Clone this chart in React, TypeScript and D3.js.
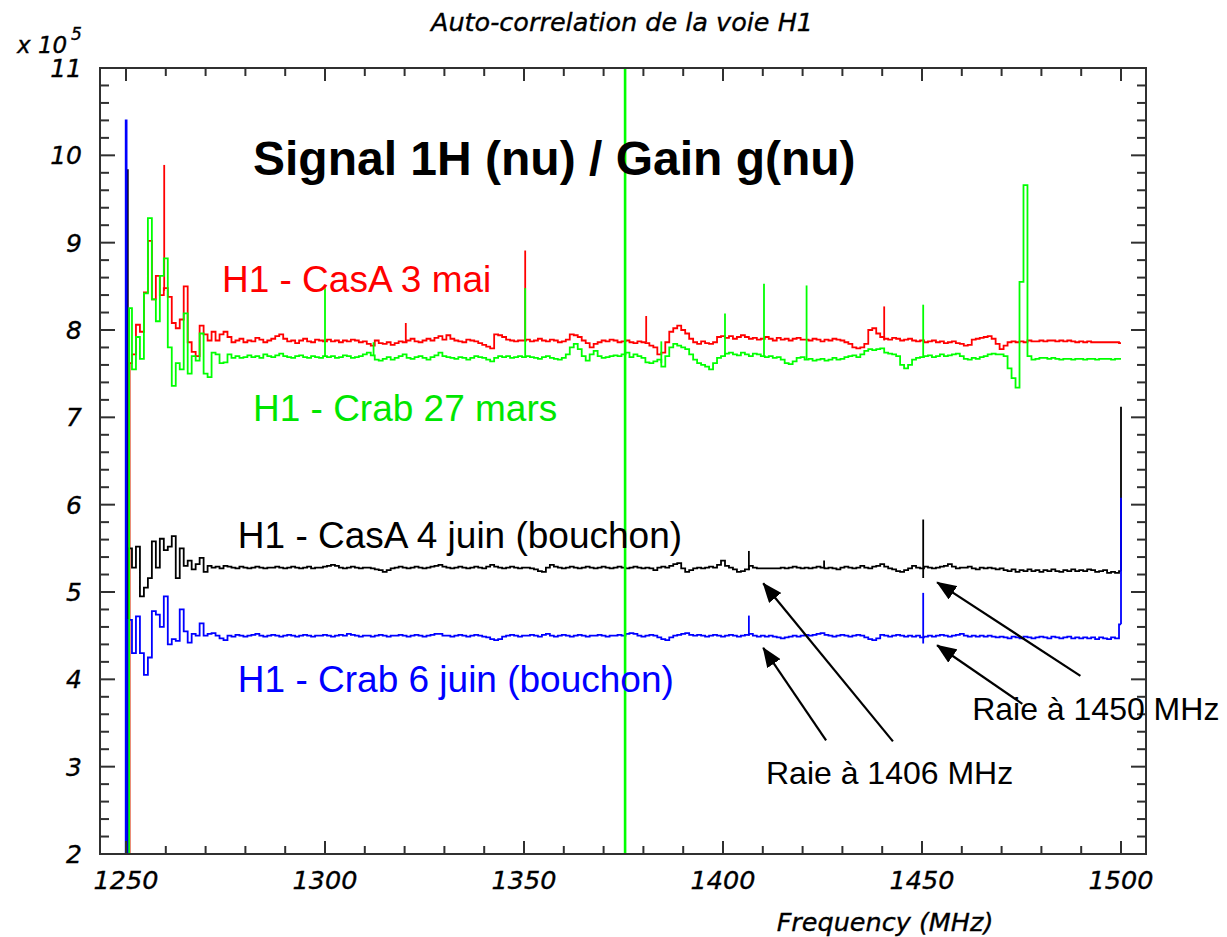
import React from 'react';
import * as d3 from 'd3';

// ---------- DATA (values in units of 10^5) ----------
const FREQ_START = 1251; // MHz, 1 MHz per channel
const FREQ_STEP = 1;

const redValues = [
  7.62, 7.72, 8.06, 7.98, 8.43, 9.02, 8.35, 8.62, 8.40, 8.48,
  8.38, 8.08, 8.02, 8.12, 8.50, 7.86, 7.75, 7.70, 8.05, 7.95,
  7.88, 7.98, 7.88, 7.95, 7.98, 7.92, 7.86, 7.88, 7.90, 7.86,
  7.88, 7.87, 7.91, 7.89, 7.86, 7.88, 7.90, 7.93, 7.95, 7.90,
  7.87, 7.88, 7.85, 7.88, 7.90, 7.87, 7.86, 7.89, 7.88, 7.87,
  7.89, 7.87, 7.88, 7.86, 7.88, 7.87, 7.89, 7.88, 7.86, 7.87,
  7.84, 7.82, 7.88, 7.85, 7.84, 7.86, 7.83, 7.85, 7.87, 7.86,
  7.88, 7.90, 7.87, 7.86, 7.88, 7.90, 7.88, 7.91, 7.93, 7.89,
  7.94, 7.90, 7.88, 7.87, 7.86, 7.89, 7.88, 7.87, 7.85, 7.83,
  7.81, 7.79, 7.95, 7.94, 7.92, 7.89, 7.88, 7.87, 7.88, 7.88,
  7.89, 7.87, 7.88, 7.90, 7.88, 7.87, 7.89, 7.88, 7.86, 7.87,
  7.89, 7.95, 7.94, 7.92, 7.88, 7.85, 7.80, 7.84, 7.86, 7.88,
  7.87, 7.89, 7.88, 7.86, 7.87, 7.88, 7.86, 7.85, 7.87, 7.86,
  7.85, 7.82, 7.80, 7.72, 7.74, 7.86, 7.98, 8.02, 8.05, 8.00,
  7.96, 7.90, 7.86, 7.84, 7.87, 7.85, 7.84, 7.86, 7.92, 7.93,
  7.91, 7.93, 7.90, 7.92, 7.94, 7.92, 7.90, 7.91, 7.89, 7.90,
  7.92, 7.90, 7.88, 7.91, 7.89, 7.90, 7.88, 7.90, 7.91, 7.89,
  7.89, 7.88, 7.90, 7.89, 7.87, 7.89, 7.88, 7.90, 7.89, 7.88,
  7.86, 7.84, 7.80, 7.79, 7.80, 7.84, 8.00, 8.02, 7.96, 7.92,
  7.90, 7.89, 7.91, 7.90, 7.88, 7.89, 7.90, 7.88, 7.87, 7.88,
  7.86, 7.87, 7.88, 7.86, 7.87, 7.85, 7.86, 7.87, 7.85, 7.84,
  7.82, 7.83, 7.89, 7.90, 7.91, 7.92, 7.93, 7.90, 7.84, 7.78,
  7.82, 7.86, 7.87, 7.86, 7.87, 7.86, 7.88, 7.87, 7.87, 7.88,
  7.87, 7.88, 7.88, 7.87, 7.88, 7.87, 7.88, 7.87, 7.86, 7.87,
  7.86, 7.87, 7.86, 7.86, 7.86, 7.86, 7.86, 7.86, 7.86, 7.85,
];

const greenValues = [
  8.25, 7.55, 7.92, 7.67, 8.42, 9.28, 8.35, 8.10, 8.62, 8.82,
  7.80, 7.36, 7.62, 7.55, 8.19, 7.50, 7.70, 7.65, 7.96, 7.50,
  7.46, 7.74, 7.72, 7.62, 7.63, 7.72, 7.68, 7.70, 7.68, 7.69,
  7.71, 7.69, 7.70, 7.68, 7.72, 7.70, 7.69, 7.71, 7.73, 7.70,
  7.69, 7.68, 7.70, 7.71, 7.69, 7.68, 7.70, 7.69, 7.68, 7.70,
  7.69, 7.70, 7.68, 7.69, 7.71, 7.70, 7.68, 7.69, 7.70, 7.72,
  7.74, 7.71, 7.66, 7.65, 7.67, 7.69, 7.66, 7.68, 7.70, 7.72,
  7.68, 7.67, 7.69, 7.70, 7.68, 7.66, 7.69, 7.71, 7.74, 7.70,
  7.69, 7.68, 7.67, 7.69, 7.68, 7.66, 7.68, 7.70, 7.69, 7.68,
  7.66, 7.64, 7.68, 7.70, 7.69, 7.70, 7.68, 7.69, 7.70, 7.69,
  7.70, 7.69, 7.68, 7.67, 7.69, 7.70, 7.68, 7.67, 7.66, 7.68,
  7.72, 7.80, 7.84, 7.78, 7.70, 7.65, 7.72, 7.76, 7.70, 7.68,
  7.69, 7.70, 7.71, 7.70, 7.72, 7.74, 7.69, 7.72, 7.70, 7.68,
  7.63, 7.62, 7.64, 7.66, 7.58, 7.70, 7.80, 7.84, 7.82, 7.80,
  7.78, 7.72, 7.66, 7.62, 7.60, 7.58, 7.55, 7.62, 7.68, 7.70,
  7.73, 7.74, 7.72, 7.71, 7.74, 7.72, 7.70, 7.73, 7.72, 7.70,
  7.69, 7.70, 7.68, 7.69, 7.66, 7.62, 7.61, 7.64, 7.68, 7.69,
  7.66, 7.67, 7.65, 7.66, 7.67, 7.65, 7.66, 7.68, 7.66, 7.67,
  7.69, 7.70, 7.71, 7.69, 7.72, 7.76, 7.78, 7.77, 7.78, 7.79,
  7.74, 7.73, 7.72, 7.70, 7.60, 7.56, 7.60, 7.66, 7.68, 7.69,
  7.70, 7.71, 7.69, 7.70, 7.72, 7.70, 7.71, 7.72, 7.73, 7.70,
  7.67, 7.66, 7.68, 7.67, 7.69, 7.70, 7.72, 7.73, 7.72, 7.72,
  7.70, 7.56, 7.45, 7.34, 8.55, 9.66, 7.70, 7.66, 7.67, 7.68,
  7.68, 7.67, 7.68, 7.67, 7.66, 7.67, 7.67, 7.66, 7.67, 7.67,
  7.66, 7.67, 7.67, 7.66, 7.67, 7.67, 7.67, 7.66, 7.67, 7.67,
];

const blackValues = [
  5.50, 5.28, 5.52, 4.95, 5.05, 5.16, 5.58, 5.28, 5.61, 5.48,
  5.52, 5.64, 5.16, 5.50, 5.30, 5.36, 5.26, 5.32, 5.39, 5.23,
  5.30, 5.28, 5.29, 5.27, 5.30, 5.29, 5.28, 5.27, 5.29, 5.28,
  5.27, 5.28, 5.29, 5.28, 5.27, 5.28, 5.28, 5.29, 5.28, 5.27,
  5.28, 5.29, 5.28, 5.27, 5.28, 5.29, 5.27, 5.28, 5.28, 5.29,
  5.30, 5.31, 5.30, 5.28, 5.27, 5.28, 5.29, 5.28, 5.27, 5.28,
  5.28, 5.27, 5.26, 5.25, 5.23, 5.25, 5.27, 5.28, 5.29, 5.28,
  5.27, 5.28, 5.29, 5.28, 5.27, 5.28, 5.29, 5.30, 5.31, 5.29,
  5.28, 5.27, 5.28, 5.29, 5.28, 5.27, 5.28, 5.29, 5.28, 5.27,
  5.29, 5.31, 5.29, 5.28, 5.27, 5.28, 5.29, 5.28, 5.27, 5.28,
  5.28, 5.27, 5.26, 5.24, 5.23, 5.28, 5.31, 5.29, 5.28, 5.27,
  5.28, 5.29, 5.28, 5.27, 5.28, 5.29, 5.28, 5.27, 5.28, 5.29,
  5.28, 5.27, 5.28, 5.29, 5.28, 5.27, 5.28, 5.29, 5.28, 5.27,
  5.28, 5.27, 5.25, 5.28, 5.29, 5.28, 5.30, 5.32, 5.33, 5.27,
  5.23, 5.25, 5.27, 5.28, 5.27, 5.28, 5.29, 5.28, 5.31, 5.36,
  5.30, 5.28, 5.26, 5.23, 5.24, 5.26, 5.30, 5.28, 5.27, 5.27,
  5.27, 5.27, 5.27, 5.27, 5.28, 5.27, 5.28, 5.29, 5.28, 5.27,
  5.28, 5.27, 5.28, 5.29, 5.28, 5.27, 5.28, 5.27, 5.26, 5.28,
  5.29, 5.28, 5.27, 5.28, 5.30, 5.28, 5.27, 5.29, 5.30, 5.32,
  5.29, 5.27, 5.26, 5.24, 5.23, 5.25, 5.27, 5.30, 5.28, 5.27,
  5.29, 5.28, 5.27, 5.28, 5.29, 5.30, 5.32, 5.29, 5.27, 5.28,
  5.28, 5.29, 5.27, 5.26, 5.28, 5.27, 5.28, 5.27, 5.26, 5.27,
  5.25, 5.24, 5.26, 5.23, 5.25, 5.24, 5.26, 5.24, 5.25, 5.23,
  5.25, 5.24, 5.26, 5.24, 5.23, 5.25, 5.24, 5.26, 5.24, 5.25,
  5.24, 5.26, 5.25, 5.23, 5.24, 5.25, 5.22, 5.23, 5.22, 5.24,
];

const blueValues = [
  4.68, 4.30, 4.72, 4.30, 4.05, 4.25, 4.78, 4.74, 4.60, 4.95,
  4.40, 4.46, 4.44, 4.80, 4.55, 4.42, 4.52, 4.50, 4.64, 4.50,
  4.52, 4.53, 4.50, 4.47, 4.45, 4.50, 4.49, 4.51, 4.50, 4.49,
  4.50, 4.51, 4.52, 4.50, 4.49, 4.50, 4.51, 4.50, 4.49, 4.50,
  4.51, 4.50, 4.49, 4.50, 4.51, 4.50, 4.49, 4.50, 4.50, 4.51,
  4.50, 4.49, 4.50, 4.51, 4.50, 4.52, 4.51, 4.50, 4.49, 4.50,
  4.50, 4.49, 4.50, 4.51, 4.50, 4.49, 4.50, 4.50, 4.51, 4.50,
  4.49, 4.50, 4.51, 4.50, 4.49, 4.50, 4.51, 4.52, 4.52, 4.50,
  4.50, 4.49, 4.50, 4.51, 4.50, 4.49, 4.50, 4.51, 4.50, 4.49,
  4.48, 4.46, 4.45, 4.46, 4.49, 4.50, 4.51, 4.50, 4.49, 4.50,
  4.50, 4.51, 4.50, 4.49, 4.51, 4.52, 4.50, 4.49, 4.50, 4.51,
  4.50, 4.49, 4.50, 4.51, 4.50, 4.49, 4.50, 4.50, 4.51, 4.50,
  4.49, 4.50, 4.50, 4.51, 4.50, 4.52, 4.53, 4.52, 4.50, 4.49,
  4.50, 4.51, 4.50, 4.48, 4.46, 4.45, 4.48, 4.50, 4.51, 4.52,
  4.53, 4.51, 4.50, 4.51, 4.50, 4.49, 4.50, 4.51, 4.50, 4.49,
  4.50, 4.51, 4.50, 4.49, 4.50, 4.51, 4.52, 4.50, 4.49, 4.50,
  4.49, 4.50, 4.49, 4.48, 4.47, 4.48, 4.49, 4.50, 4.49, 4.50,
  4.51, 4.50, 4.51, 4.52, 4.53, 4.51, 4.50, 4.49, 4.50, 4.51,
  4.50, 4.49, 4.50, 4.51, 4.50, 4.48, 4.46, 4.45, 4.47, 4.51,
  4.50, 4.49, 4.50, 4.51, 4.50, 4.49, 4.50, 4.49, 4.50, 4.48,
  4.49, 4.50, 4.49, 4.50, 4.51, 4.50, 4.49, 4.50, 4.51, 4.52,
  4.50, 4.49, 4.50, 4.49, 4.50, 4.49, 4.50, 4.49, 4.48, 4.49,
  4.48, 4.47, 4.49, 4.48, 4.47, 4.49, 4.48, 4.47, 4.48, 4.49,
  4.48, 4.47, 4.49, 4.48, 4.47, 4.48, 4.49, 4.47, 4.48, 4.47,
  4.48, 4.47, 4.48, 4.46, 4.48, 4.47, 4.46, 4.48, 4.47, 4.63,
];

// first channels (band edge glitches) before FREQ_START
const redLeadFreq = [1250.8];
const redLeadVal = [1.0];
const greenLeadFreq = [1250.6];
const greenLeadVal = [1.0];
const blackLeadFreq = [1250.2, 1250.35, 1250.55];
const blackLeadVal = [1.0, 9.83, 1.0];
const blueLeadFreq = [1249.85, 1250.0, 1250.3];
const blueLeadVal = [1.0, 10.4, 1.0];

// narrow single-channel spikes (freq, low, high)
const redSpikeFreq = [1259.6, 1320.3, 1350.3, 1380.7, 1440.5];
const redSpikeLo = [8.45, 7.86, 7.88, 7.86, 7.88];
const redSpikeHi = [9.89, 8.08, 8.91, 8.16, 8.27];
const greenSpikeFreq = [1300.0, 1312.2, 1350.3, 1384.5, 1400.5, 1410.3, 1421.0, 1450.3];
const greenSpikeLo = [7.69, 7.70, 7.69, 7.62, 7.70, 7.69, 7.66, 7.69];
const greenSpikeHi = [8.49, 7.86, 8.48, 7.87, 8.19, 8.53, 8.51, 8.29];
const blackSpikeFreq = [1406.5, 1425.4, 1450.3, 1500.0];
const blackSpikeLo = [5.25, 5.28, 5.16, 5.24];
const blackSpikeHi = [5.47, 5.36, 5.83, 7.12];
const blueSpikeFreq = [1406.5, 1450.3, 1500.0];
const blueSpikeLo = [4.50, 4.41, 4.63];
const blueSpikeHi = [4.73, 4.99, 6.08];
// full-height glitch of the green series
const greenGlitchFreq = 1375.4;
const greenGlitchLo = 1.0;
const greenGlitchHi = 12.0;

// axes
const xMajorTicks = [1250, 1300, 1350, 1400, 1450, 1500];
const xTickLabels = ['1250', '1300', '1350', '1400', '1450', '1500'];
const yMajorTicks = [2, 3, 4, 5, 6, 7, 8, 9, 10, 11];
const yTickLabels = ['2', '3', '4', '5', '6', '7', '8', '9', '10', '11'];

// series labels (text, anchor freq, anchor value)
const labelTexts = ['H1 - CasA 3 mai', 'H1 - Crab 27 mars', 'H1 - CasA 4 juin (bouchon)', 'H1 - Crab 6 juin (bouchon)'];
const labelFreq = [1274.1, 1281.9, 1278.1, 1278.1];
const labelValue = [8.43, 6.96, 5.50, 3.85];

// annotations
const noteTexts = ['Raie à 1450 MHz', 'Raie à 1406 MHz'];
const noteFreq = [1462.6, 1410.8];
const noteValue = [3.53, 2.80];
const arrowTailFreq = [1442.7, 1425.9, 1489.8, 1475.2];
const arrowTailValue = [3.29, 3.30, 4.04, 3.72];
const arrowTipFreq = [1410.1, 1410.1, 1453.8, 1453.8];
const arrowTipValue = [5.10, 4.36, 5.11, 4.39];

// ---------- LAYOUT ----------
const W = 1227;
const H = 937;
const L = 100, R = 1146, T = 68, B = 854;

const COLORS = { red: '#ff0000', green: '#00ff00', black: '#000000', blue: '#0000ff' };
const TEXT_COLORS = ['#ff0000', '#00e600', '#000000', '#0000ff'];

export default function App() {
  const x = d3.scaleLinear().domain([1250, 1500]).range([126, 1121]);
  const y = d3.scaleLinear().domain([2, 11]).range([B, T]);

  const freqs = d3.range(redValues.length).map((i) => FREQ_START + i * FREQ_STEP);
  const mk = (leadF: number[], leadV: number[], vals: number[]) =>
    [...leadF.map((f, i) => [f, leadV[i]] as [number, number]), ...vals.map((v, i) => [freqs[i], v] as [number, number])];

  const series = [
    { key: 'red', color: COLORS.red, pts: mk(redLeadFreq, redLeadVal, redValues), sf: redSpikeFreq, sl: redSpikeLo, sh: redSpikeHi },
    { key: 'black', color: COLORS.black, pts: mk(blackLeadFreq, blackLeadVal, blackValues), sf: blackSpikeFreq, sl: blackSpikeLo, sh: blackSpikeHi },
    { key: 'blue', color: COLORS.blue, pts: mk(blueLeadFreq, blueLeadVal, blueValues), sf: blueSpikeFreq, sl: blueSpikeLo, sh: blueSpikeHi },
    { key: 'green', color: COLORS.green, pts: mk(greenLeadFreq, greenLeadVal, greenValues), sf: greenSpikeFreq, sl: greenSpikeLo, sh: greenSpikeHi },
  ];

  const line = d3
    .line<[number, number]>()
    .x((d) => x(d[0]))
    .y((d) => y(d[1]))
    .curve(d3.curveStep);

  const xMinor = d3.range(1250, 1501, 10).filter((v) => !xMajorTicks.includes(v));
  const yMinor = d3.range(2, 11.001, 0.2).map((v) => +v.toFixed(1)).filter((v) => Math.abs(v - Math.round(v)) > 0.01);

  const axisColor = '#303030';
  const axisFont = "'DejaVu Sans', sans-serif";
  const noteFont = "'Liberation Sans', Arial, sans-serif";
  const axisText = { fontFamily: axisFont, fontStyle: 'italic' as const, fill: '#000', stroke: '#000', strokeWidth: 0.35 };

  return (
    <svg width={W} height={H} style={{ position: 'absolute', left: 0, top: 0, background: '#fff' }}>
      <defs>
        <clipPath id="plotclip">
          <rect x={L} y={T} width={R - L} height={B - T} />
        </clipPath>
        <marker id="arrowhead" markerUnits="userSpaceOnUse" markerWidth={20} markerHeight={16} refX={19} refY={8} orient="auto">
          <path d="M0,0 L20,8 L0,16 Z" fill="#000" />
        </marker>
      </defs>
      <rect x={0} y={0} width={W} height={H} fill="#fff" />

      {/* title */}
      <text x={622} y={31} textAnchor="middle" fontSize={25.5} {...axisText}>
        Auto-correlation de la voie H1
      </text>

      {/* data */}
      <g clipPath="url(#plotclip)">
        {series.map((s) => (
          <g key={s.key}>
            <path d={line(s.pts) || ''} fill="none" stroke={s.color} strokeWidth={1.8} />
            {s.sf.map((f, i) => (
              <line key={i} x1={x(f)} x2={x(f)} y1={y(s.sl[i])} y2={y(s.sh[i])} stroke={s.color} strokeWidth={1.8} />
            ))}
          </g>
        ))}
        <line x1={x(greenGlitchFreq)} x2={x(greenGlitchFreq)} y1={y(greenGlitchLo)} y2={y(greenGlitchHi)} stroke={COLORS.green} strokeWidth={2.6} />
      </g>

      {/* frame */}
      <rect x={L} y={T} width={R - L} height={B - T} fill="none" stroke={axisColor} strokeWidth={2} />
      {/* x ticks */}
      {xMajorTicks.map((t) => (
        <g key={'xM' + t}>
          <line x1={x(t)} x2={x(t)} y1={B} y2={B - 13} stroke={axisColor} strokeWidth={2} />
          <line x1={x(t)} x2={x(t)} y1={T} y2={T + 13} stroke={axisColor} strokeWidth={2} />
        </g>
      ))}
      {xMinor.map((t) => (
        <g key={'xm' + t}>
          <line x1={x(t)} x2={x(t)} y1={B} y2={B - 8} stroke={axisColor} strokeWidth={2} />
          <line x1={x(t)} x2={x(t)} y1={T} y2={T + 8} stroke={axisColor} strokeWidth={2} />
        </g>
      ))}
      {/* y ticks */}
      {yMajorTicks.map((t) => (
        <g key={'yM' + t}>
          <line x1={L} x2={L + 15} y1={y(t)} y2={y(t)} stroke={axisColor} strokeWidth={2} />
          <line x1={R} x2={R - 15} y1={y(t)} y2={y(t)} stroke={axisColor} strokeWidth={2} />
        </g>
      ))}
      {yMinor.map((t) => (
        <g key={'ym' + t}>
          <line x1={L} x2={L + 9} y1={y(t)} y2={y(t)} stroke={axisColor} strokeWidth={2} />
          <line x1={R} x2={R - 9} y1={y(t)} y2={y(t)} stroke={axisColor} strokeWidth={2} />
        </g>
      ))}
      {/* tick labels */}
      {xMajorTicks.map((t, i) => (
        <text key={'xl' + t} x={x(t)} y={889} textAnchor="middle" fontSize={25.5} {...axisText}>
          {xTickLabels[i]}
        </text>
      ))}
      {yMajorTicks.map((t, i) => (
        <text key={'yl' + t} x={82} y={y(t) + 9} textAnchor="end" fontSize={25} {...axisText}>
          {yTickLabels[i]}
        </text>
      ))}
      <text x={17} y={53} fontSize={23} {...axisText}>
        x 10
      </text>
      <text x={71} y={40} fontSize={17} {...axisText}>
        5
      </text>
      <text x={885} y={931} textAnchor="middle" fontSize={25.5} {...axisText}>
        Frequency (MHz)
      </text>

      {/* overlay texts */}
      <text x={x(1281.9)} y={y(9.775)} fontFamily={noteFont} fontWeight="bold" fontSize={48} fill="#000">
        Signal 1H (nu) / Gain g(nu)
      </text>
      {labelTexts.map((t, i) => (
        <text key={t} x={x(labelFreq[i])} y={y(labelValue[i])} fontFamily={noteFont} fontSize={37} fill={TEXT_COLORS[i]}>
          {t}
        </text>
      ))}
      {noteTexts.map((t, i) => (
        <text key={t} x={x(noteFreq[i])} y={y(noteValue[i])} fontFamily={noteFont} fontSize={32} fill="#000">
          {t}
        </text>
      ))}
      {arrowTailFreq.map((f, i) => (
        <line
          key={'ar' + i}
          x1={x(f)}
          y1={y(arrowTailValue[i])}
          x2={x(arrowTipFreq[i])}
          y2={y(arrowTipValue[i])}
          stroke="#000"
          strokeWidth={2.2}
          markerEnd="url(#arrowhead)"
        />
      ))}
    </svg>
  );
}
